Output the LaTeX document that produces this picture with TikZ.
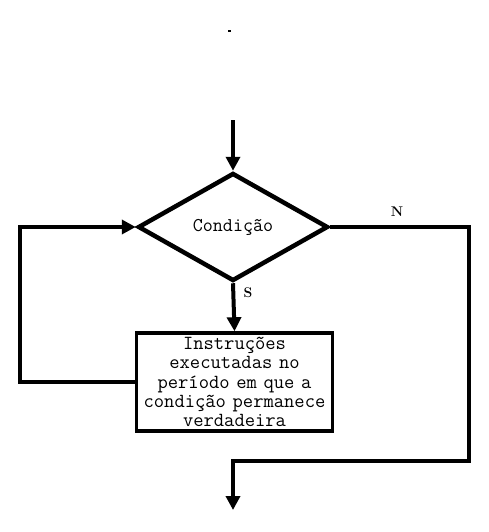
\documentclass[tikz,border=0pt]{standalone}
\usepackage{fontspec}
\usetikzlibrary{shapes.geometric,arrows.meta}
\begin{document}
\begin{tikzpicture}[x=1pt,y=-1pt,
  flow/.style={line width=4pt,line join=miter},
  tip/.style={-{Triangle[length=14pt,width=14pt]}},
  decision/.style={diamond,draw,line width=4.5pt,minimum width=190pt,minimum height=108pt,
    inner sep=0pt,font=\ttfamily\fontsize{19.5}{19}\selectfont},
  process/.style={rectangle,draw,line width=3.5pt,minimum width=196pt,minimum height=98pt,
    text width=195pt,align=center,inner sep=0pt,font=\ttfamily\fontsize{20}{19.2}\selectfont},
  tag/.style={font=\bfseries\fontsize{14}{16}\selectfont}]
  \useasboundingbox (0,0) rectangle (489,532);
  % small mark at the top
  \fill (228,30) rectangle (230.5,32.5);
  % shapes
  \node[decision] (cond) at (233,227) {Condição};
  \node[process] (body) at (234.5,382) {Instruções\\executadas no\\período em que a\\condição permanece\\verdadeira};
  % free ends
  \coordinate (start) at (233,120);
  \coordinate (loopL) at (20,300);
  \coordinate (exitR) at (469,461);
  \coordinate (finish) at (233,510);
  % connectors
  \draw[flow,tip] (start) -- (cond.north);
  \draw[flow,tip] (cond.south) -- (body.north);
  \draw[flow,tip] (body.west) -| (loopL) |- (cond.west);
  \draw[flow,tip] (cond.east) -| (exitR) -| (finish);
  % branch labels
  \node[tag] (yes) at (248,293) {S};
  \node[tag] (no) at (397,212) {N};
\end{tikzpicture}
\end{document}
